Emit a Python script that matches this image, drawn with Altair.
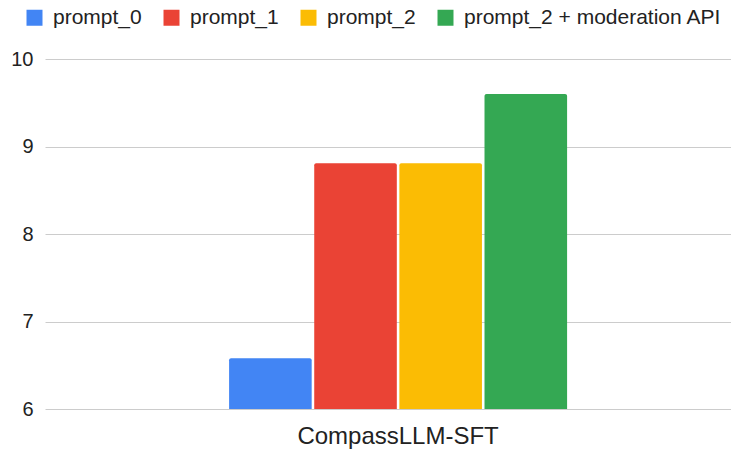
import altair as alt
import pandas as pd

category = ["CompassLLM-SFT"]
series = ["prompt_0", "prompt_1", "prompt_2", "prompt_2 + moderation API"]
values = [6.58, 8.81, 8.81, 9.6]
colors = ["#4285F4", "#EA4335", "#FBBC04", "#34A853"]
y_ticks = [6, 7, 8, 9, 10]

df = pd.DataFrame({
    "model": category * len(series),
    "series": series,
    "score": values,
})

FONT = "Arial, Liberation Sans, sans-serif"

chart = alt.Chart(df).mark_bar(
    cornerRadiusTopLeft=2, cornerRadiusTopRight=2
).encode(
    x=alt.X("model:N", title=None,
            scale=alt.Scale(paddingInner=0, paddingOuter=0.5148, align=0.529),
            axis=alt.Axis(labelAngle=0, domain=False, ticks=False,
                          labelFontSize=24, labelPadding=15, labelColor="#222",
                          labelFont=FONT, labelLimit=600)),
    xOffset=alt.XOffset("series:N", sort=series,
                        scale=alt.Scale(paddingInner=0.03, paddingOuter=0)),
    y=alt.Y("score:Q", title=None,
            scale=alt.Scale(domain=[6, 10], zero=False, nice=False),
            axis=alt.Axis(values=y_ticks, domain=False, ticks=False,
                          labelFontSize=20, labelPadding=12, labelColor="#222",
                          labelFont=FONT, gridColor="#cccccc", gridWidth=1)),
    y2=alt.datum(6),
    color=alt.Color("series:N", sort=series,
                    scale=alt.Scale(domain=series, range=colors),
                    legend=alt.Legend(title=None, orient="none", direction="horizontal",
                                      columns=4, legendX=-21, legendY=-52,
                                      symbolType="square", symbolSize=256,
                                      symbolStrokeWidth=0, labelFontSize=21,
                                      labelFont=FONT, labelColor="#222",
                                      labelOffset=8, columnPadding=19,
                                      labelLimit=400)),
).properties(
    width=686,
    height=350,
    autosize=alt.AutoSizeParams(type="none"),
    padding={"left": 37, "top": 51, "right": 0, "bottom": 40},
).configure_view(stroke=None)

chart.save("out.html", embed_options={"renderer": "svg", "actions": False})
